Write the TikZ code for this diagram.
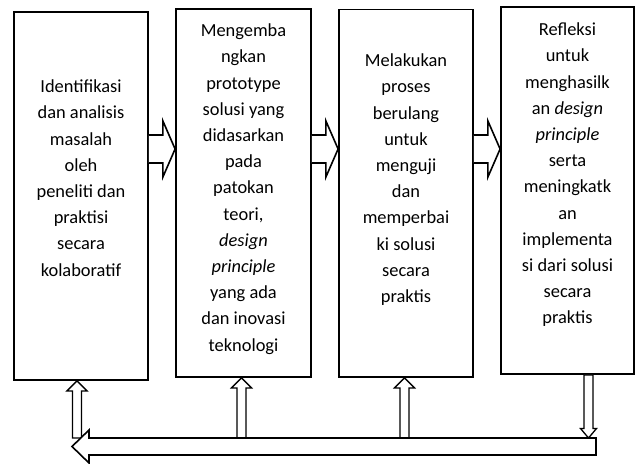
\documentclass[tikz,border=0pt]{standalone}
\usepackage{fontspec}
\setmainfont{Carlito}
\usetikzlibrary{calc}
\usetikzlibrary{positioning}
\newcommand\rightblock[2]{% from box, to box
  \draw[fat] let \p1=(#1.east), \p2=(#2.west) in
    (\x1,328pt) -- (\x1+14pt,328pt) -- (\x1+14pt,342pt) -- (\x2,314pt)
    -- (\x1+14pt,286pt) -- (\x1+14pt,300pt) -- (\x1,300pt)
}
\newcommand\upblock[2]{% box, x offset from its centre
  \draw[slim] let \p1=($(#1.south)+(#2,0)$), \p2=(fbR) in
    (\p1) -- (\x1+10pt,\y1-10pt) -- (\x1+4.5pt,\y1-10pt) -- (\x1+4.5pt,\y2+8.5pt)
    -- (\x1-4.5pt,\y2+8.5pt) -- (\x1-4.5pt,\y1-10pt) -- (\x1-10pt,\y1-10pt) -- cycle
}

\begin{document}
\begin{tikzpicture}[x=1pt,y=1pt]
  \tikzset{box/.style={draw, line width=1.8pt, inner sep=0pt}}
  \tikzset{txt/.style={align=center, inner sep=0pt, font=\fontsize{18.4}{26.2}\selectfont}}
  \tikzset{fat/.style={draw, fill=white, line width=1.6pt, line join=miter}}
  \tikzset{slim/.style={draw, fill=white, line width=1.3pt, line join=miter}}

  \useasboundingbox (0,0) rectangle (636,463);

  \node[box, minimum width=134pt, minimum height=368pt] (b1) at (81,267) {};
  \node[box, minimum width=135pt, minimum height=368pt] (b2) at (243.5,270) {};
  \node[box, minimum width=134pt, minimum height=367.5pt] (b3) at (406,269.75) {};
  \node[box, minimum width=133pt, minimum height=367pt] (b4) at (567.5,272.5) {};

  \node[txt, below=63pt of b1.north] (t1) {\strut Identifikasi\\dan analisis\\masalah\\oleh\\peneliti dan\\praktisi\\secara\\kolaboratif};
  \node[txt, below=10pt of b2.north] (t2) {\strut Mengemba\\ngkan\\prototype\\solusi yang\\didasarkan\\pada\\patokan\\teori,\\\textit{design}\\\textit{principle}\\yang ada\\dan inovasi\\teknologi};
  \node[txt, below=39.5pt of b3.north] (t3) {\strut Melakukan\\proses\\berulang\\untuk\\menguji\\dan\\memperbai\\ki solusi\\secara\\praktis};
  \node[txt, below=11pt of b4.north] (t4) {\strut Refleksi\\untuk\\menghasilk\\an \textit{design}\\\textit{principle}\\serta\\meningkatk\\an\\implementa\\si dari solusi\\secara\\praktis};

  % block arrows between the steps
  \rightblock{b1}{b2};
  \rightblock{b2}{b3};
  \rightblock{b3}{b4};

  % feedback bar
  \coordinate (fbR) at (596,16.5);
  \coordinate (fbL) at (72,16.5);

  \upblock{b1}{-4};
  \upblock{b2}{-2};
  \upblock{b3}{-1.5};

  \draw[slim] let \p1=($(b4.south)+(21,0)$), \p2=(fbR) in
    (\x1-4.5pt,\y1) -- (\x1+4.5pt,\y1) -- (\x1+4.5pt,\y2+18pt) -- (\x1+8pt,\y2+18pt)
    -- (\x1,\y2+8.5pt) -- (\x1-8pt,\y2+18pt) -- (\x1-4.5pt,\y2+18pt) -- cycle;

  \draw[fat] let \p1=(fbR), \p2=(fbL) in
    (\x1,\y1+8.5pt) -- (\x2+17pt,\y1+8.5pt) -- (\x2+17pt,\y1+16.5pt) -- (fbL)
    -- (\x2+17pt,\y1-16.5pt) -- (\x2+17pt,\y1-8.5pt) -- (\x1,\y1-8.5pt) -- cycle;
\end{tikzpicture}
\end{document}
